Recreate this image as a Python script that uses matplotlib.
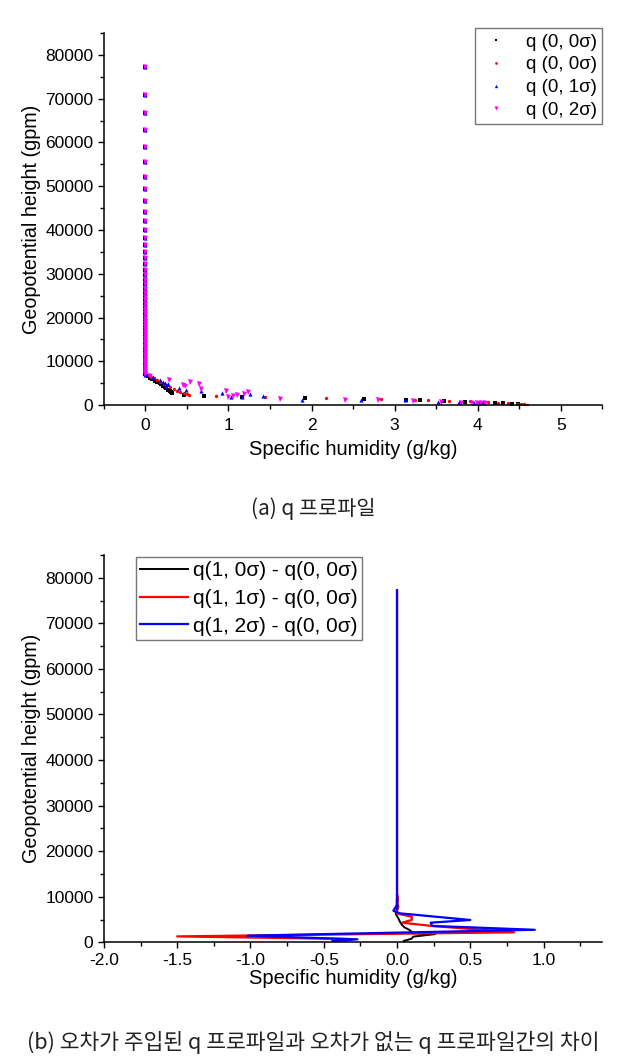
import matplotlib
matplotlib.use("Agg")
import matplotlib.pyplot as plt
from matplotlib.ticker import MultipleLocator, FormatStrFormatter

plt.rcParams['font.family'] = ['Liberation Sans', 'DejaVu Sans']

# shared upper model levels (gpm), q ~ 0 there
upper_z = [77250, 70840, 66720, 62750, 58930, 55420, 52140, 49310, 46640, 44200,
           42060, 40080, 38240, 36560, 35040, 33590, 32210, 30920, 29770, 28650,
           27600, 26600, 25650, 24750, 23900, 23050, 22250, 21450, 20700, 19950,
           19200, 18500, 17800, 17100, 16450, 15800, 15150, 14500, 13900, 13300,
           12700, 12100, 11500, 10950, 10400, 9850, 9300, 8800, 8300, 7800, 7350]
upper_q = [0.0] * len(upper_z)

# (a) q profiles, lower part
z_q00a = [7000, 6600, 6200, 5900, 5600, 5300, 5000, 4700, 4400, 4100, 3800, 3500,
          3200, 2900, 2750, 2360, 2130, 1740, 1510, 1440, 1220, 1060, 990, 690, 530,
          460, 380, 300, 200]
q_q00a = [0.0, 0.03, 0.05, 0.08, 0.11, 0.14, 0.17, 0.19, 0.21, 0.23, 0.25, 0.27,
          0.29, 0.31, 0.32, 0.46, 0.71, 1.16, 1.92, 2.63, 3.14, 3.30, 3.59, 3.85, 4.08,
          4.21, 4.31, 4.41, 4.48]

z_q00b = [7400, 6900, 6500, 6100, 5700, 5300, 4900, 4500, 4100, 3700, 3300, 3000,
          2700, 2500, 2380, 1970, 1850, 1600, 1440, 1140, 1060, 990, 840, 690, 460,
          400, 330, 260, 180, 100]
q_q00b = [0.0, 0.04, 0.07, 0.10, 0.14, 0.18, 0.22, 0.26, 0.30, 0.34, 0.38, 0.42,
          0.46, 0.50, 0.53, 0.85, 1.44, 2.17, 2.84, 3.25, 3.40, 3.66, 3.91, 4.13, 4.25,
          4.36, 4.47, 4.52, 4.56, 4.60]

z_q01 = [6900, 6400, 5800, 5300, 5030, 4800, 4300, 3900, 3500, 3100, 2750, 1830,
         1740, 2520, 2130, 1210, 1210, 1060, 690, 690, 530, 460, 380]
q_q01 = [0.0, 0.09, 0.18, 0.21, 0.23, 0.27, 0.25, 0.41, 0.49, 0.67, 0.92, 1.03,
         1.16, 1.26, 1.42, 1.89, 2.59, 3.12, 3.52, 3.77, 3.96, 4.02, 4.08]

z_q02 = [7100, 6600, 5800, 4650, 4300, 5180, 4880, 3660, 3120, 1830, 2290, 2590,
         2890, 2000, 1370, 1210, 1210, 990, 690, 530, 530, 530, 500, 450]
q_q02 = [0.0, 0.05, 0.28, 0.45, 0.48, 0.54, 0.64, 0.67, 0.97, 0.99, 1.10, 1.19,
         1.24, 1.05, 1.62, 2.40, 2.80, 3.22, 3.56, 3.80, 3.93, 3.99, 4.04, 4.09]

# (b) differences, lower part
z_d10 = [100, 300, 800, 1240, 1800, 2000, 2340, 2800, 3300, 3800, 4500, 5200,
         6000, 6600, 7100, 7800, 8500, 9200]
q_d10 = [0.05, 0.045, 0.10, 0.11, 0.26, 0.10, 0.10, 0.08, 0.05, 0.034, 0.02, 0.01,
         -0.005, -0.01, 0.0, 0.01, 0.0, 0.0]

z_d11 = [400, 700, 1300, 2190, 3580, 4310, 4900, 5630, 6300, 6900, 7600, 8500,
         9500, 10500]
q_d11 = [-0.35, -0.30, -1.50, 0.80, 0.24, 0.034, 0.10, 0.10, 0.0, 0.0, 0.005, 0.0,
         0.005, 0.0]

z_d12 = [290, 660, 1450, 2750, 3600, 4310, 4900, 6360, 6940, 8200, 9500]
q_d12 = [-0.44, -0.27, -1.02, 0.94, 0.24, 0.23, 0.50, 0.02, -0.025, 0.0, 0.0]

labels_a = ['q (0, 0σ)', 'q (0, 0σ)', 'q (0, 1σ)', 'q (0, 2σ)']
labels_b = ['q(1, 0σ) - q(0, 0σ)', 'q(1, 1σ) - q(0, 0σ)', 'q(1, 2σ) - q(0, 0σ)']
caption_a = '(a) q 프로파일'
caption_b = '(b) 오차가 주입된 q 프로파일과 오차가 없는 q 프로파일간의 차이'


def style_axes(ax):
    for side in ['top', 'right']:
        ax.spines[side].set_visible(False)
    for side in ['left', 'bottom']:
        ax.spines[side].set_linewidth(1.1)
    ax.tick_params(which='major', direction='out', length=4.5, width=1.0,
                   labelsize=12.5, pad=3)
    ax.tick_params(which='minor', direction='out', length=3, width=1.0)
    ax.yaxis.set_major_locator(MultipleLocator(10000))
    ax.yaxis.set_minor_locator(MultipleLocator(5000))
    ax.set_ylim(0, 85000)
    ax.set_ylabel('Geopotential height (gpm)', fontsize=14.2, labelpad=3)


fig = plt.figure(figsize=(6.26, 10.62), dpi=100)

# ---- (a) scatter profiles ----
ax1 = fig.add_axes([0.166, 0.6186, 0.796, 0.3503])
series_a = [
    (q_q00a, z_q00a, 's', 'black', 2.2),
    (q_q00b, z_q00b, 'o', 'red', 2.4),
    (q_q01, z_q01, '^', 'blue', 3.0),
    (q_q02, z_q02, 'v', 'magenta', 3.6),
]
for (q, z, mk, col, ms), lab in zip(series_a, labels_a):
    ax1.plot(upper_q + q, upper_z + z, linestyle='none', marker=mk, color=col,
             markersize=ms, markeredgewidth=0, label=lab)
ax1.set_xlim(-0.5, 5.5)
ax1.xaxis.set_major_locator(MultipleLocator(1))
ax1.xaxis.set_minor_locator(MultipleLocator(0.5))
style_axes(ax1)
ax1.tick_params(axis='x', pad=5)
ax1.set_xlabel('Specific humidity (g/kg)', fontsize=14.5, labelpad=5)
leg1 = ax1.legend(loc='upper right', bbox_to_anchor=(1.0, 1.014), fontsize=13.5,
                  frameon=True, fancybox=False, edgecolor='#555555',
                  handlelength=1.6, handletextpad=0.8, borderpad=0.3,
                  labelspacing=0.3, markerscale=0.8, borderaxespad=0.0)
leg1.get_frame().set_linewidth(1.0)

# ---- (b) difference lines ----
ax2 = fig.add_axes([0.166, 0.1127, 0.796, 0.3647])
series_b = [
    (q_d10, z_d10, 'black', 1.4),
    (q_d11, z_d11, 'red', 1.6),
    (q_d12, z_d12, 'blue', 1.6),
]
for (q, z, col, lw), lab in zip(series_b, labels_b):
    ax2.plot(q + upper_q[::-1], z + upper_z[::-1], color=col, linewidth=lw, label=lab)
ax2.set_xlim(-2.0, 1.4)
ax2.xaxis.set_major_locator(MultipleLocator(0.5))
ax2.xaxis.set_minor_locator(MultipleLocator(0.25))
ax2.xaxis.set_major_formatter(FormatStrFormatter('%.1f'))
style_axes(ax2)
ax2.tick_params(axis='x', pad=3)
ax2.set_xlabel('Specific humidity (g/kg)', fontsize=14.5, labelpad=1)
leg2 = ax2.legend(loc='upper left', bbox_to_anchor=(0.064, 0.995), fontsize=15,
                  frameon=True, fancybox=False, edgecolor='#555555',
                  handlelength=2.3, handletextpad=0.25, borderpad=0.2,
                  labelspacing=0.42, borderaxespad=0.0)
leg2.get_frame().set_linewidth(1.0)

cap_font = ['Noto Sans CJK KR', 'DejaVu Sans']
fig.text(0.5, 1 - 509 / 1062, caption_a, ha='center', va='center', fontsize=15,
         family=cap_font, color='#222222')
fig.text(0.5, 1 - 1042 / 1062, caption_b, ha='center', va='center', fontsize=15.5,
         family=cap_font, color='#222222')

fig.savefig('out.png', dpi=100)
